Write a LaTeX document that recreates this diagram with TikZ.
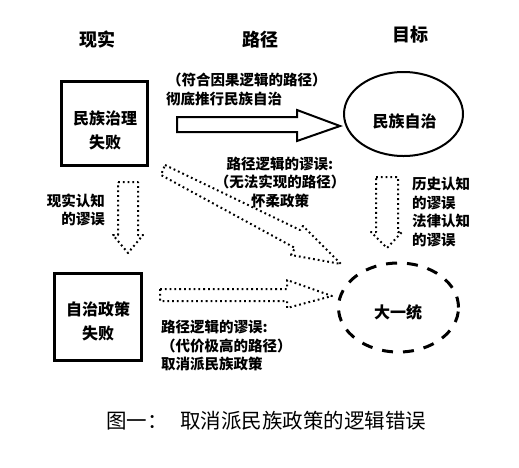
\documentclass[tikz,border=0pt]{standalone}
\usepackage{fontspec}
\setmainfont{Noto Sans CJK SC}
\usetikzlibrary{shapes.geometric}
\begin{document}
\begin{tikzpicture}[x=1pt,y=-1pt,
  lbl/.style={font=\fontsize{14.5}{18.5}\selectfont\bfseries, inner sep=0pt},
  boxtxt/.style={font=\fontsize{16}{24}\selectfont\bfseries, align=center, inner sep=0pt},
  hdr/.style={font=\fontsize{18}{20}\selectfont\bfseries, inner sep=0pt},
  sqbox/.style={draw, line width=2.7pt, inner sep=0pt},
  dotline/.style={line width=2pt, dash pattern=on 1.8pt off 3pt, line join=round},
  ]
\useasboundingbox (0,0) rectangle (519,467);
\fill[white] (0,0) rectangle (519,467);

% headers
\node[hdr] (h1) at (97,40) {现实};
\node[hdr] (h2) at (260,40) {路径};
\node[hdr] (h3) at (410,35) {目标};

% boxes
\node[sqbox, minimum width=86pt, minimum height=84pt] (b1) at (104.5,123.5) {};
\node[boxtxt] (t1) at (105,130) {民族治理\\失败};
\node[sqbox, minimum width=87pt, minimum height=87pt] (b2) at (98,317) {};
\node[boxtxt] (t2) at (98,321) {自治政策\\失败};

% ellipses
\node[draw, ellipse, line width=2pt, minimum width=119pt, minimum height=84pt] (e1) at (403.5,114) {};
\node[boxtxt] (t3) at (404.5,121) {民族自治};
\node[draw, ellipse, line width=3pt, dash pattern=on 11pt off 10pt, minimum width=120pt, minimum height=89pt] (e2) at (398.5,307.5) {};
\node[boxtxt] (t4) at (398,312) {大一统};

% block arrow (solid)
\draw[line width=2pt, line join=miter] (177,117) -- (297,117) -- (297,110) -- (340,126) -- (297,141) -- (297,132) -- (177,132) -- cycle;

% dotted arrows
\draw[dotline] (165,165) -- (300,230) -- (303,226) -- (341,264) -- (291,255) -- (295,248) -- (161,175) -- cycle;
\draw[dotline] (118,182) -- (138,182) -- (138,235) -- (143,235) -- (128,253) -- (113,235) -- (118,235) -- cycle;
\draw[dotline] (376,177) -- (398,177) -- (398,232) -- (402,232) -- (387,248) -- (371,232) -- (376,232) -- cycle;
\draw[dotline] (160,289) -- (287,289) -- (287,280) -- (332,296) -- (287,308) -- (287,301) -- (160,301) -- cycle;

% labels
\node[lbl, anchor=west] (l1) at (167,80) {（符合因果逻辑的路径）};
\node[lbl, anchor=west] (l2) at (166,99) {彻底推行民族自治};
\node[lbl, align=center] (l3) at (280,182) {路径逻辑的谬误:\\（无法实现的路径）\\怀柔政策};
\node[lbl, align=right, anchor=east] (l4) at (105,210) {现实认知\\的谬误};
\node[lbl, align=left, anchor=west] (l5) at (412,212) {历史认知\\的谬误\\法律认知\\的谬误};
\node[lbl, align=left, anchor=west] (l6) at (161,346) {路径逻辑的谬误:\\（代价极高的路径）\\取消派民族政策};

% caption
\node[font=\fontsize{20.5}{24}\selectfont, anchor=west, inner sep=0pt] (cap) at (106,421) {图一：\hspace{0.6em}取消派民族政策的逻辑错误};
\end{tikzpicture}
\end{document}
